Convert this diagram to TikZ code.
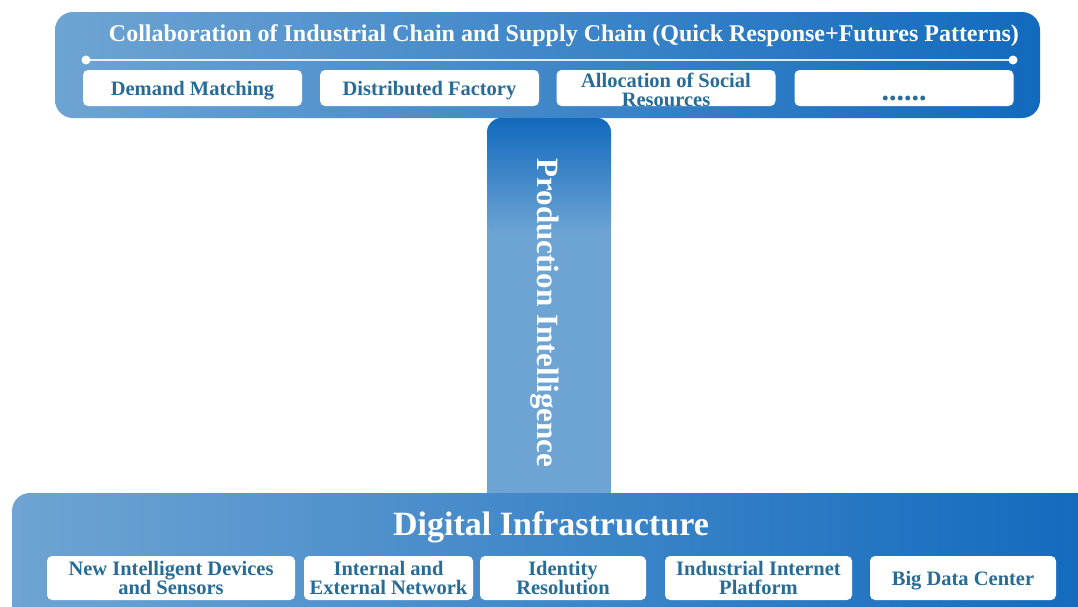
\documentclass[tikz,border=0pt]{standalone}
\usepackage{fontspec}
\setmainfont{Liberation Serif}
\definecolor{lightb}{RGB}{110,164,211}
\definecolor{darkb}{RGB}{18,106,190}
\definecolor{txtb}{RGB}{38,108,150}
\newcommand{\lowtxt}[2]{\raisebox{0pt}[\dimexpr\height+#1\relax][\depth]{#2}}
\tikzset{
  band/.style={left color=lightb, right color=darkb, rounded corners=18pt},
  wbox/.style={fill=white, rounded corners=5pt, text=txtb, font=\bfseries\fontsize{20.5}{19.5}\selectfont, align=center, inner sep=0pt, anchor=center},
  topbox/.style={wbox, minimum width=219pt, minimum height=36pt},
  botbox/.style={wbox, minimum height=44pt},
  wtitle/.style={text=white, font=\bfseries, inner sep=0pt}
}
\begin{document}
\begin{tikzpicture}[x=1pt,y=-1pt]
\useasboundingbox (0,0) rectangle (1078,606);
\clip (0,0) rectangle (1078,606);
% top band
\shade[band] (55,12) rectangle (1040,118);
\node[wtitle, font=\bfseries\fontsize{24}{26}\selectfont] (ttl) at (564,36) {Collaboration of Industrial Chain and Supply Chain (Quick Response+Futures Patterns)};
\coordinate (la) at (86,60);
\coordinate (lb) at (1013,60);
\draw[white, opacity=0.85, line width=2.5pt] (la) -- (lb);
\fill[white] (la) circle (4.5pt) (lb) circle (4.5pt);
\node[topbox] (dm) at (192.5,88) {\lowtxt{6pt}{Demand Matching}};
\node[topbox] (df) at (429.5,88) {\lowtxt{6pt}{Distributed Factory}};
\node[topbox] (as) at (666,88) {\raisebox{-10pt}[15pt][15pt]{\begin{tabular}{@{}c@{}}Allocation of Social\\Resources\end{tabular}}};
\node[topbox, font=\bfseries\fontsize{30}{30}\selectfont] (dots) at (904,88) {\lowtxt{20pt}{......}};
% vertical bar
\fill[lightb] (487,200) rectangle (611,500);
\shade[top color=darkb, bottom color=lightb, rounded corners=14pt] (487,118) rectangle (611,235);
\node[wtitle, rotate=-90, font=\bfseries\fontsize{31}{34}\selectfont] (pi) at (545,313) {Production Intelligence};
% bottom band
\shade[band] (12,493) rectangle (1096,640);
\node[wtitle, font=\bfseries\fontsize{34}{36}\selectfont] (di) at (551,527) {Digital Infrastructure};
\node[botbox, minimum width=248pt] (nd) at (171,578) {New Intelligent Devices\\and Sensors};
\node[botbox, minimum width=169pt] (ie) at (388.5,578) {Internal and\\External Network};
\node[botbox, minimum width=166pt] (ir) at (563,578) {Identity\\Resolution};
\node[botbox, minimum width=187pt] (ip) at (758.5,578) {Industrial Internet\\Platform};
\node[botbox, minimum width=186pt] (bd) at (963,578) {\lowtxt{6pt}{Big Data Center}};
\end{tikzpicture}
\end{document}
